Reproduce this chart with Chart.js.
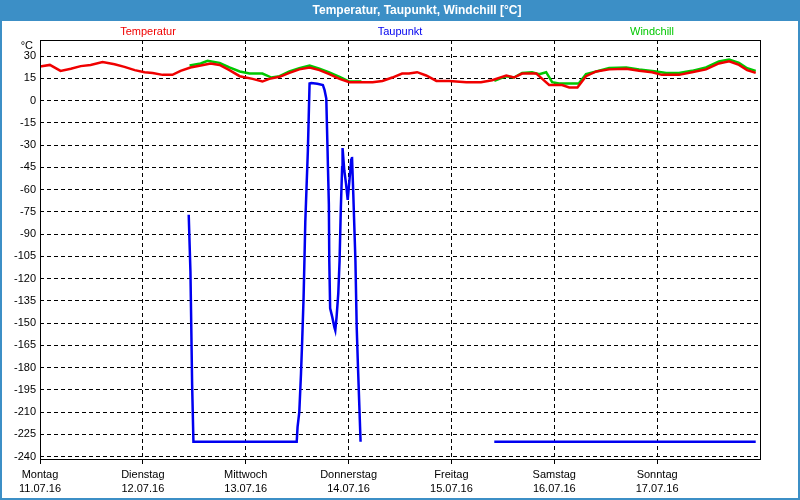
<!DOCTYPE html>
<html>
<head>
<meta charset="utf-8">
<script src="https://cdn.jsdelivr.net/npm/chart.js@4/dist/chart.umd.min.js"></script>
<style>
  html, body { margin: 0; padding: 0; background: #fff; }
  #wrap { width: 800px; height: 500px; }
</style>
</head>
<body>
<div id="wrap"><canvas id="chart" width="800" height="500"></canvas></div>
<script>
// x values are hours since Monday 11.07.16 00:00
const dayTicks = [0, 24, 48, 72, 96, 120, 144];
const dayNames = ["Montag", "Dienstag", "Mittwoch", "Donnerstag", "Freitag", "Samstag", "Sonntag"];
const dayDates = ["11.07.16", "12.07.16", "13.07.16", "14.07.16", "15.07.16", "16.07.16", "17.07.16"];
const yTicks = [30, 15, 0, -15, -30, -45, -60, -75, -90, -105, -120, -135, -150, -165, -180, -195, -210, -225, -240];

const seriesNames = ["Temperatur", "Taupunkt", "Windchill"];

// Temperatur
const tempHours = [0, 2.3, 4.8, 7.2, 9.5, 11.8, 14.6, 17.4, 19.7, 22.1, 24.4, 26.3, 28.6, 30.9, 32.8, 35.1, 37.5, 39.8, 41.9, 44.2,
    46.6, 49.6, 51.9, 53.5, 55.9, 58.2, 60.5, 62.9, 65.2, 67.5, 69.9, 72.2, 74.5, 77.6, 79.9, 82.2, 84.5, 86.1, 88, 90.1,
    92.5, 95.5, 99.5, 102.9, 105.5, 108.8, 110.6, 112.5, 115.8, 117.2, 118.8, 121.8, 123.5, 125.4, 127.4, 129.8, 132.8, 136.8, 139.8, 142.8,
    145.1, 149.1, 152.1, 155.4, 158.4, 160.8, 163.1, 165, 167];
const tempValues = [23, 24, 20, 21.4, 23.2, 24, 25.9, 24.5, 22.7, 20.5, 19, 18.6, 17.3, 17.3, 20, 22.3, 23.6, 25, 24, 20.5,
    16.4, 14.6, 12.8, 14.6, 16, 18.6, 21, 22.3, 20.5, 17.8, 14.6, 12.4, 12.4, 12.4, 13.2, 15.5, 18.2, 18.2, 19.1, 16.9,
    13.2, 13.2, 12.4, 12.4, 13.7, 16.9, 15.5, 18.2, 18.2, 14.6, 10.5, 10.5, 8.8, 8.8, 16.4, 19.6, 21, 21.4, 20, 19.1,
    17.3, 17.3, 19.1, 21, 25, 26.4, 24, 20.5, 18.6];

// Taupunkt (null = no data)
const dewHours = [34.7, 35.1, 35.3, 35.5, 35.8, 59.9, 60.1, 60.5, 60.9, 61.2, 61.5, 61.7, 61.9, 62.2, 62.5, 62.7, 62.9, 63.3, 64.7, 66.0,
    66.4, 66.8, 67.1, 67.4, 67.5, 67.7, 68.2, 68.7, 68.9, 69.2, 69.6, 69.9, 70.2, 70.5, 70.6, 71.0, 71.4, 71.8, 72.2, 72.6,
    72.8, 73.1, 73.6, 73.9, 74.2, 74.5, 74.8, 90, 106, 167];
const dewValues = [-77, -115, -153, -192, -230, -230, -220, -210, -184, -160, -133, -108, -82, -58, -34, -11, 11.5, 11.8, 11.3, 10.5,
    7, 1.3, -34, -70, -108, -140, -146, -153, -155, -146, -130, -108, -72, -45, -32, -47, -56, -67, -54, -40,
    -38, -63, -108, -153, -180, -205, -230, null, -230, -230];

// Windchill (null = no data)
const windHours = [34.9, 37.5, 39.1, 41.9, 44.2, 46.6, 48.9, 51.9, 54, 55.9, 58.2, 60.5, 62.9, 65.2, 67.5, 69.9, 72.2, 75, 90, 106,
    108.8, 110.6, 112.5, 114.8, 116.5, 118.1, 119.5, 121.1, 125.7, 127.4, 129.8, 132.8, 136.8, 139.8, 143.8, 146.1, 149.1, 152.1, 155.4, 158.4,
    160.8, 163.1, 165, 167];
const windValues = [23.6, 25, 26.8, 25.4, 22.3, 19.6, 18.2, 18.2, 15.5, 16.4, 19.6, 21.8, 23.6, 21.4, 19, 16, 12.8, 12.8, null, 13.2,
    16.4, 15.5, 18.6, 19.1, 17.8, 19.1, 12.4, 11.5, 11.5, 17.8, 19.6, 22, 22.3, 21, 19.6, 18.6, 18.6, 20, 22.3, 26.4,
    27.7, 25.4, 21.8, 20];

const FONT = '"Liberation Sans", Arial, sans-serif';
const frameBlue = "rgb(60, 143, 198)";
const colors = ["#f00000", "#0000f0", "#00c800"];

function points(xs, ys) {
    return xs.map(function (x, i) { return { x: x, y: ys[i] }; });
}

// window frame, title bar, series names and frame round the plot
const framePlugin = {
    id: "frame",
    beforeDraw: function (chart) {
        const ctx = chart.ctx;
        ctx.save();
        ctx.fillStyle = frameBlue;
        ctx.fillRect(0, 0, chart.width, chart.height);
        ctx.fillStyle = "#ffffff";
        ctx.fillRect(2, 21, chart.width - 4, chart.height - 23);
        ctx.fillStyle = "#ffffff";
        ctx.font = "bold 12px " + FONT;
        ctx.textAlign = "center";
        ctx.textBaseline = "middle";
        ctx.fillText("Temperatur, Taupunkt, Windchill [°C]", 417, 11);
        ctx.restore();
    },
    afterDraw: function (chart) {
        const ctx = chart.ctx;
        const a = chart.chartArea;
        ctx.save();
        ctx.setLineDash([]);
        ctx.strokeStyle = "#000";
        ctx.lineWidth = 1;
        ctx.strokeRect(a.left + 0.5, a.top + 0.5, a.right - a.left, a.bottom - a.top - 1);

        ctx.font = "11px " + FONT;
        ctx.textBaseline = "middle";
        ctx.textAlign = "center";
        const pos = [0.15, 0.5, 0.85];
        chart.data.datasets.forEach(function (ds, i) {
            ctx.fillStyle = ds.borderColor;
            ctx.fillText(ds.label, a.left + (a.right - a.left) * pos[i], 32);
        });

        ctx.fillStyle = "#000";
        ctx.textAlign = "right";
        ctx.fillText("°C", 33, 46);
        ctx.restore();
    }
};

const ctx = document.getElementById("chart");

new Chart(ctx, {
    type: "line",
    data: {
        datasets: [
            {
                label: seriesNames[0],
                data: points(tempHours, tempValues),
                borderColor: colors[0],
                borderWidth: 2.5
            },
            {
                label: seriesNames[1],
                data: points(dewHours, dewValues),
                borderColor: colors[1],
                borderWidth: 2.5
            },
            {
                label: seriesNames[2],
                data: points(windHours, windValues),
                borderColor: colors[2],
                borderWidth: 2.5
            }
        ]
    },
    options: {
        responsive: false,
        animation: false,
        events: [],
        layout: { padding: { top: 40, right: 40, bottom: 0, left: 0 } },
        elements: {
            point: { radius: 0 },
            line: { tension: 0, fill: false, borderCapStyle: "butt", borderJoinStyle: "miter" }
        },
        scales: {
            x: {
                type: "linear",
                min: 0,
                max: 168,
                afterBuildTicks: function (axis) {
                    axis.ticks = dayTicks.map(function (v) { return { value: v }; });
                },
                afterFit: function (axis) { axis.height = 40; },
                ticks: {
                    autoSkip: false,
                    maxRotation: 0,
                    padding: 3,
                    color: "#000",
                    font: { family: FONT, size: 11, lineHeight: 1.36 },
                    callback: function (value, index) {
                        return [dayNames[index], dayDates[index]];
                    }
                },
                grid: { color: "#000", lineWidth: 1, drawTicks: true, tickLength: 4, tickColor: "#000" },
                border: { display: false, dash: [4, 3] }
            },
            y: {
                min: -242.3,
                max: 40.8,
                afterBuildTicks: function (axis) {
                    axis.ticks = yTicks.map(function (v) { return { value: v }; });
                },
                afterFit: function (axis) { axis.width = 40; },
                ticks: {
                    padding: 4,
                    color: "#000",
                    font: { family: FONT, size: 11 }
                },
                grid: { color: "#000", lineWidth: 1, drawTicks: false },
                border: { display: false, dash: [4, 3] }
            }
        },
        plugins: {
            legend: { display: false },
            title: { display: false },
            tooltip: { enabled: false }
        }
    },
    plugins: [framePlugin]
});
</script>
</body>
</html>
